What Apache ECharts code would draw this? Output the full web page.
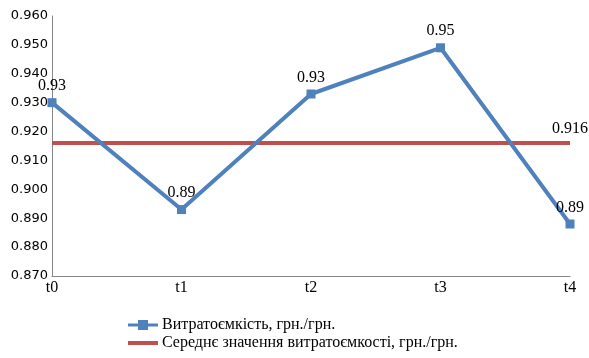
<!DOCTYPE html>
<html><head><meta charset="utf-8">
<script src="https://cdn.jsdelivr.net/npm/echarts@6/dist/echarts.min.js"></script>
<style>html,body{margin:0;padding:0;background:#fff}#c{width:589px;height:358px}</style>
</head><body><div id="c"></div>
<script>
var categories = ['t0','t1','t2','t3','t4'];
var intensity = [0.930, 0.893, 0.933, 0.949, 0.888];
var intensityLabels = ['0.93','0.89','0.93','0.95','0.89'];
var average = [0.916, 0.916, 0.916, 0.916, 0.916];
var averageLabel = '0.916';
var seriesNames = ['Витратоємкість, грн./грн.', 'Середнє значення витратоємкості, грн./грн.'];

var chart = echarts.init(document.getElementById('c'));
var serif = '"Liberation Serif", serif';
chart.setOption({
  animation: false,
  grid: {left: 52, right: 19, top: 16, bottom: 82},
  legend: {
    orient: 'vertical', left: 128, top: 317, height: 41, itemGap: 2, padding: 0,
    itemWidth: 30, itemHeight: 10,
    textStyle: {fontFamily: serif, fontSize: 16, color: '#000', padding: [0, 0, 0, -1]},
    data: [
      {name: seriesNames[0], icon: 'path://M0,3.5 L10,3.5 L10,0 L20,0 L20,3.5 L30,3.5 L30,6.5 L20,6.5 L20,10 L10,10 L10,6.5 L0,6.5 Z'},
      {name: seriesNames[1], icon: 'path://M0,3 L30,3 L30,7 L0,7 Z'}
    ]
  },
  xAxis: {
    type: 'category', data: categories, boundaryGap: false,
    axisLine: {lineStyle: {color: '#868686'}},
    axisTick: {show: false},
    axisLabel: {fontFamily: serif, fontSize: 16, color: '#000', margin: 4}
  },
  yAxis: {
    type: 'value', min: 0.87, max: 0.96, interval: 0.01,
    axisLine: {show: true, lineStyle: {color: '#868686'}},
    axisTick: {show: false},
    splitLine: {show: false},
    axisLabel: {fontFamily: '"DejaVu Sans", sans-serif', fontSize: 13, color: '#000', margin: 4,
      formatter: function(v){return v.toFixed(3);}}
  },
  series: [
    {
      name: seriesNames[1], type: 'line', data: average,
      symbol: 'circle', symbolSize: 0, lineStyle: {color: '#C0504D', width: 4}, itemStyle: {color: '#C0504D'},
      label: {show: true, position: 'top', distance: 6, fontFamily: serif, fontSize: 16, color: '#000',
        formatter: function(p){return p.dataIndex === average.length - 1 ? averageLabel : '';}},
      z: 2
    },
    {
      name: seriesNames[0], type: 'line', data: intensity,
      symbol: 'rect', symbolSize: 9, lineStyle: {color: '#4F81BD', width: 4}, itemStyle: {color: '#4F81BD'},
      label: {show: true, position: 'top', distance: 4, fontFamily: serif, fontSize: 16, color: '#000',
        formatter: function(p){return intensityLabels[p.dataIndex];}},
      z: 3
    }
  ]
});
</script></body></html>
